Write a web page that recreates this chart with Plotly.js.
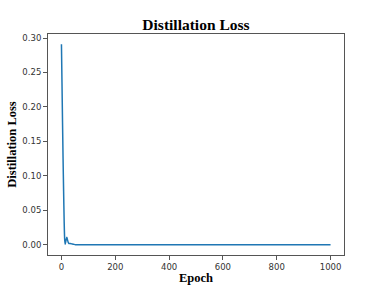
<!DOCTYPE html>
<html><head><meta charset="utf-8">
<script src="https://cdn.plot.ly/plotly-3.0.1.min.js"></script>
<style>html,body{margin:0;padding:0;background:#fff;}#chart{width:382px;height:287px;}</style>
</head><body><div id="chart"></div>
<script>
const epochs = [0, 2, 4, 6, 8, 10, 12, 14, 17, 20, 22, 25, 28, 32, 38, 45, 52, 60, 100, 200, 300, 400, 500, 600, 700, 800, 900, 1000];
const loss   = [0.291, 0.235, 0.178, 0.125, 0.078, 0.035, 0.008, 0.001, 0.007, 0.011, 0.008, 0.004, 0.002, 0.002, 0.0015, 0.001, 0.0004, 0.0002, 0.0002, 0.0002, 0.0002, 0.0002, 0.0002, 0.0002, 0.0002, 0.0002, 0.0002, 0.0002];
const xTicks = [0, 200, 400, 600, 800, 1000];
const yTicks = [0.00, 0.05, 0.10, 0.15, 0.20, 0.25, 0.30];

const axisCommon = {
  showgrid: false, zeroline: false, showline: true, mirror: true,
  linecolor: '#555', linewidth: 1, ticks: 'outside', ticklen: 4, tickcolor: '#555',
  tickfont: {family: 'DejaVu Sans', size: 8.5, color: '#333'}
};
Plotly.newPlot('chart', [{
  x: epochs, y: loss, type: 'scatter', mode: 'lines',
  line: {color: '#1f77b4', width: 1.5, shape: 'spline', smoothing: 0.6}
}], {
  width: 382, height: 287,
  margin: {l: 48, r: 38, t: 34, b: 32},
  paper_bgcolor: '#fff', plot_bgcolor: '#fff', showlegend: false,
  title: {text: '<b>Distillation Loss</b>', x: 0.513, xanchor: 'center', y: 0.915, yanchor: 'middle',
          font: {family: 'Liberation Serif', size: 15.5, color: '#000'}},
  xaxis: Object.assign({}, axisCommon, {range: [-50, 1050], tickvals: xTicks, ticktext: xTicks.map(String),
    title: {text: '<b>Epoch</b>', standoff: 2, font: {family: 'Liberation Serif', size: 12.5, color: '#000'}}}),
  yaxis: Object.assign({}, axisCommon, {range: [-0.0146, 0.3058], tickvals: yTicks, ticktext: yTicks.map(v => v.toFixed(2)),
    title: {text: '<b>Distillation Loss</b>', standoff: 2, font: {family: 'Liberation Serif', size: 12.5, color: '#000'}}})
}, {staticPlot: true});
</script></body></html>
